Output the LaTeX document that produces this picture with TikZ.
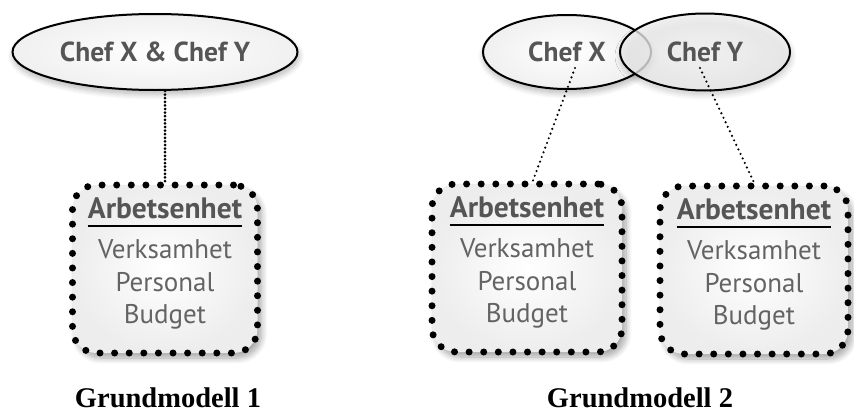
\documentclass[tikz,border=0pt]{standalone}
\usepackage{fontspec}
\setmainfont{Liberation Serif}
\setsansfont{PT Sans}
\usepackage{tikz}
\usetikzlibrary{shapes.geometric, positioning, shadows.blur}
\definecolor{labelgray}{HTML}{555555}
\definecolor{itemgray}{HTML}{636363}
\tikzstyle{chef} = [ellipse, draw=black, line width=2pt, inner color=white, outer color=gray!12, blur shadow={shadow xshift=1pt, shadow yshift=-4pt, shadow blur steps=10, shadow opacity=30, shadow blur radius=6pt}, font=\sffamily\bfseries\fontsize{27.5}{30}\selectfont, text=labelgray]
\tikzstyle{unit} = [rectangle, rounded corners=24pt, minimum width=185pt, minimum height=168pt, draw=black, line width=7pt, line cap=round, dash pattern=on 0pt off 14.6pt, inner color=white, outer color=gray!14, blur shadow={shadow xshift=4pt, shadow yshift=-5pt, shadow blur steps=10, shadow opacity=35, shadow blur radius=6pt}]
\tikzstyle{head} = [font=\sffamily\bfseries\fontsize{29.5}{32}\selectfont, text=labelgray, inner xsep=0pt]
\tikzstyle{items} = [align=center, font=\sffamily\fontsize{27}{32.5}\selectfont, text=itemgray]
\tikzstyle{rule} = [line width=2pt]
\tikzstyle{link} = [line width=3pt, line cap=round, dash pattern=on 0pt off 3.6pt]
\tikzstyle{thinlink} = [line width=2.4pt, line cap=round, dash pattern=on 0pt off 5pt]
\tikzstyle{caption} = [font=\bfseries\fontsize{28.5}{32}\selectfont]

\begin{document}
\begin{tikzpicture}[x=1pt, y=-1pt, node distance=76pt]
\useasboundingbox (0,0) rectangle (854,415);
% Grundmodell 1
\node (chefXY) [chef, minimum width=285pt, minimum height=76pt] at (155,52) {Chef X \& Chef Y};
\node (unit1) [unit] at (165,269) {};
\node (head1) [head] at ([yshift=-27pt]unit1.north) {Arbetsenhet};
\draw [rule] ([yshift=-17pt]head1.west) -- ([yshift=-17pt]head1.east);
\node (list1) [items, below of = head1] {Verksamhet\\Personal\\Budget};
\draw [link] (chefXY.south -| unit1.north) -- (unit1.north);
\node (cap1) [caption, below of = unit1, node distance=129pt, xshift=3pt] {Grundmodell 1};
% Grundmodell 2
\node (chefX) [chef, minimum width=168pt, minimum height=74pt] at (567,52) {Chef X};
\node (chefY) [chef, minimum width=170pt, minimum height=77pt, fill opacity=0.75, text opacity=1] at (705,52) {Chef Y};
\node (unit2) [unit, minimum width=190pt] at (527,268) {};
\node (head2) [head] at ([yshift=-27pt]unit2.north) {Arbetsenhet};
\draw [rule] ([yshift=-17pt]head2.west) -- ([yshift=-17pt]head2.east);
\node (list2) [items, below of = head2] {Verksamhet\\Personal\\Budget};
\node (unit3) [unit, minimum width=188pt] at (754,270) {};
\node (head3) [head] at ([yshift=-27pt]unit3.north) {Arbetsenhet};
\draw [rule] ([yshift=-17pt]head3.west) -- ([yshift=-17pt]head3.east);
\node (list3) [items, below of = head3] {Verksamhet\\Personal\\Budget};
\coordinate (tipX) at (575,68);
\coordinate (tipY) at (700,68);
\draw [thinlink] (tipX) -- ([xshift=6pt]unit2.north);
\draw [thinlink] (tipY) -- (unit3.north);
\node (cap2) [caption, below of = unit2, node distance=130pt, xshift=113pt] {Grundmodell 2};
\end{tikzpicture}
\end{document}
